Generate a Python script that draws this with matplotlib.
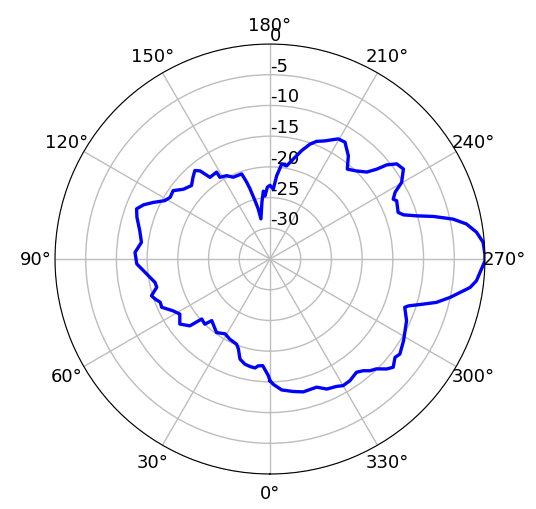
import matplotlib
matplotlib.use("Agg")
import matplotlib.pyplot as plt
import numpy as np

plt.rcParams['axes.unicode_minus'] = False

# Measured radiation pattern (angle in degrees, gain in dB)
angle_deg = [
    0.0, 0.8, 3.9, 6.3, 7.8, 10.5, 13.4, 16.7, 19.4, 21.4, 26.6, 31.0, 36.0,
    43.4, 45.0, 48.7, 50.2, 54.2, 58.6, 61.9, 66.0, 68.5, 70.8, 72.8, 76.0,
    78.5, 84.1, 87.9, 92.8, 97.4, 102.3, 107.4, 110.6, 113.2, 115.9, 119.0,
    121.7, 125.2, 128.9, 133.1, 136.8, 139.7, 141.6, 143.7, 148.4, 148.5,
    152.5, 155.8, 161.6, 163.1, 164.1, 165.6, 166.8, 167.3, 172.0, 174.4,
    175.5, 177.9, 180.0, 182.7, 184.6, 186.3, 187.0, 190.1, 193.1, 196.3,
    199.2, 201.6, 204.9, 209.6, 212.7, 217.2, 220.7, 224.5, 228.1, 229.9,
    231.1, 233.1, 236.0, 239.8, 241.9, 244.1, 245.3, 250.0, 251.7, 253.6,
    255.4, 257.7, 259.9, 262.6, 265.5, 268.7, 270.5, 271.3, 276.0, 278.1,
    280.0, 282.0, 284.6, 286.4, 288.7, 289.7, 294.3, 301.5, 306.2, 308.2,
    311.3, 313.3, 315.9, 318.2, 320.1, 322.6, 326.7, 330.0, 332.4, 336.4,
    340.0, 345.9, 350.0, 354.9, 358.5, 360.0,
]
gain_db = [
    -15.2, -16.0, -17.6, -17.5, -17.1, -17.2, -17.4, -18.0, -19.5, -20.1,
    -20.4, -20.8, -20.2, -21.2, -20.0, -20.2, -18.0, -16.9, -17.8, -17.1,
    -15.7, -15.8, -15.2, -14.8, -16.0, -15.9, -14.5, -13.3, -13.0, -13.9,
    -13.3, -12.3, -11.8, -12.6, -13.9, -15.4, -15.9, -15.7, -16.9, -17.5,
    -16.7, -16.1, -16.7, -18.5, -18.4, -19.4, -19.7, -20.4, -20.4, -21.9,
    -23.1, -25.2, -26.6, -28.3, -25.6, -23.9, -24.7, -23.3, -23.0, -23.6,
    -21.4, -20.1, -19.4, -19.6, -18.3, -16.6, -15.2, -14.4, -13.8, -12.5,
    -12.4, -13.9, -15.7, -14.9, -13.8, -12.3, -10.6, -9.2, -8.8, -10.2,
    -11.9, -12.7, -12.3, -12.8, -12.1, -10.1, -7.5, -4.5, -2.5, -1.1,
    -0.2, 0.0, 0.0, -0.2, -1.2, -2.1, -3.6, -5.0, -7.0, -9.0, -11.2, -11.7,
    -10.6, -9.5, -8.8, -9.1, -8.3, -8.9, -10.1, -10.6, -11.3, -11.8, -11.3,
    -11.2, -11.6, -11.9, -12.8, -12.7, -13.1, -13.6, -14.6, -15.2,
]
r_ticks = [-30, -25, -20, -15, -10, -5, 0]
theta_ticks = list(range(0, 360, 30))

fig = plt.figure(figsize=(5.36, 5.10), dpi=100)
ax = fig.add_axes([0.1026, 0.0686, 0.8022, 0.8431], projection='polar')

ax.plot(np.deg2rad(angle_deg), gain_db, color='blue', linewidth=2.4)

ax.set_theta_zero_location('S')
ax.set_theta_direction(-1)
ax.set_rlim(-35, 0)
ax.set_rticks(r_ticks)
ax.set_rlabel_position(180)
ax.set_thetagrids(theta_ticks, [f"{t}°" for t in theta_ticks], fontsize=13)
ax.tick_params(axis='y', labelsize=13)
ax.grid(True, color='#bdbdbd', linewidth=1)

fig.savefig("out.png", dpi=100)
